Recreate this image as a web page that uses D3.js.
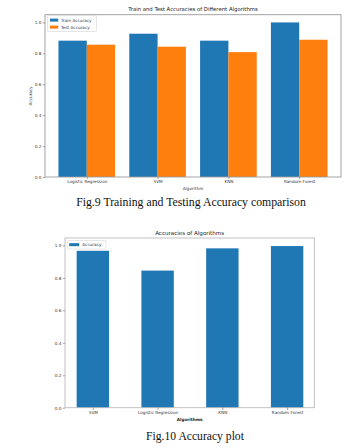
<!DOCTYPE html>
<html><head><meta charset="utf-8">
<script src="https://cdn.jsdelivr.net/npm/d3@7"></script>
<style>body{margin:0;background:#fff}svg{display:block}</style>
</head><body>
<svg id="c" width="361" height="448"></svg>
<script>
const algos1 = ["Logistic Regression","SVM","KNN","Random Forest"];
const trainAcc = [0.882, 0.927, 0.882, 1.0];
const testAcc = [0.856, 0.843, 0.808, 0.888];
const algos2 = ["SVM","Logistic Regression","KNN","Random Forest"];
const acc2 = [0.967, 0.845, 0.982, 0.996];
const yTicks = [0, 0.2, 0.4, 0.6, 0.8, 1.0];
const blue = "#1f77b4", orange = "#ff7f0e";
const tickFont = "DejaVu Sans";
const svg = d3.select("#c");

function fitWidth(t, w){
  const fs = +t.attr("font-size");
  const m = t.node().getComputedTextLength();
  if (m > 0) t.attr("font-size", fs * w / m);
  return t;
}
function frame(g, x0, x1, y0, y1, col){
  g.append("rect").attr("x",x0).attr("y",y0).attr("width",x1-x0).attr("height",y1-y0)
   .attr("fill","none").attr("stroke",col).attr("stroke-width",0.9);
}
function styleAxis(a){
  a.selectAll("text").attr("font-family",tickFont).attr("font-size",4.2).attr("fill","#333");
  a.selectAll("line").attr("stroke","#555").attr("stroke-width",0.5);
  a.select(".domain").remove();
}

// ---- Chart 1 ----
const L1=45,R1=341,T1=14.7,B1=177;
const x1 = d3.scaleLinear().domain([-0.59,3.59]).range([L1,R1]);
const y1 = d3.scaleLinear().domain([0,1.05]).range([B1,T1]);
const g1 = svg.append("g");
const bw1 = x1(0.4)-x1(0);
g1.selectAll("rect.tr").data(trainAcc).join("rect").attr("class","tr")
  .attr("x",(d,i)=>x1(i-0.4)).attr("width",bw1).attr("y",d=>y1(d)).attr("height",d=>y1(0)-y1(d)).attr("fill",blue);
g1.selectAll("rect.te").data(testAcc).join("rect").attr("class","te")
  .attr("x",(d,i)=>x1(i)).attr("width",bw1).attr("y",d=>y1(d)).attr("height",d=>y1(0)-y1(d)).attr("fill",orange);
frame(g1,L1,R1,T1,B1,"#999");
const ya1 = g1.append("g").attr("transform",`translate(${L1},0)`)
  .call(d3.axisLeft(y1).tickValues(yTicks).tickFormat(d3.format(".1f")).tickSize(2.2).tickPadding(1.5));
styleAxis(ya1);
const xa1 = g1.append("g").attr("transform",`translate(0,${B1})`)
  .call(d3.axisBottom(x1).tickValues([0,1,2,3]).tickFormat(i=>algos1[i]).tickSize(2.2).tickPadding(1.2));
styleAxis(xa1);
fitWidth(g1.append("text").attr("x",(L1+R1)/2).attr("y",11).attr("text-anchor","middle")
  .attr("font-family",tickFont).attr("font-size",5).attr("fill","#222").text("Train and Test Accuracies of Different Algorithms"),130);
g1.append("text").attr("x",(L1+R1)/2).attr("y",189.5).attr("text-anchor","middle")
  .attr("font-family",tickFont).attr("font-size",4.2).attr("fill","#333").text("Algorithm");
g1.append("text").attr("transform",`translate(31.5,${(T1+B1)/2}) rotate(-90)`).attr("text-anchor","middle")
  .attr("font-family",tickFont).attr("font-size",4.2).attr("fill","#333").text("Accuracy");
const lg1 = g1.append("g");
lg1.append("rect").attr("x",47.5).attr("y",15.5).attr("width",49).attr("height",16).attr("rx",1)
  .attr("fill","#fff").attr("fill-opacity",0.85).attr("stroke","#ccc").attr("stroke-width",0.5);
[["Train Accuracy",blue],["Test Accuracy",orange]].forEach(([t,c],i)=>{
  lg1.append("rect").attr("x",50).attr("y",18.6+i*7).attr("width",8.2).attr("height",3).attr("fill",c);
  lg1.append("text").attr("x",61).attr("y",21.6+i*7).attr("font-family",tickFont).attr("font-size",4.2).attr("fill","#333").text(t);
});
fitWidth(svg.append("text").attr("x",191).attr("y",205.5).attr("text-anchor","middle")
  .attr("font-family","Liberation Serif").attr("font-size",12.3).attr("fill","#111").text("Fig.9 Training and Testing Accuracy comparison"),230);

// ---- Chart 2 ----
const L2=65,R2=314.3,T2=238,B2=407.7;
const x2 = d3.scaleLinear().domain([-0.43,3.42]).range([L2,R2]);
const y2 = d3.scaleLinear().domain([0,1.0458]).range([B2,T2]);
const g2 = svg.append("g");
const bw2 = x2(0.5)-x2(0);
g2.selectAll("rect.b").data(acc2).join("rect").attr("class","b")
  .attr("x",(d,i)=>x2(i-0.25)).attr("width",bw2).attr("y",d=>y2(d)).attr("height",d=>y2(0)-y2(d)).attr("fill",blue);
frame(g2,L2,R2,T2,B2,"#bbb");
const ya2 = g2.append("g").attr("transform",`translate(${L2},0)`)
  .call(d3.axisLeft(y2).tickValues(yTicks).tickFormat(d3.format(".1f")).tickSize(2.2).tickPadding(1.5));
styleAxis(ya2);
const xa2 = g2.append("g").attr("transform",`translate(0,${B2})`)
  .call(d3.axisBottom(x2).tickValues([0,1,2,3]).tickFormat(i=>algos2[i]).tickSize(2.2).tickPadding(1.2));
styleAxis(xa2);
fitWidth(g2.append("text").attr("x",(L2+R2)/2).attr("y",234.5).attr("text-anchor","middle")
  .attr("font-family",tickFont).attr("font-size",5.2).attr("fill","#222").text("Accuracies of Algorithms"),69);
g2.append("text").attr("x",(L2+R2)/2).attr("y",421).attr("text-anchor","middle")
  .attr("font-family",tickFont).attr("font-size",4.2).attr("font-weight","bold").attr("fill","#222").text("Algorithms");
const lg2 = g2.append("g");
lg2.append("rect").attr("x",67.3).attr("y",240.5).attr("width",38.7).attr("height",8.5).attr("rx",1)
  .attr("fill","#fff").attr("fill-opacity",0.85).attr("stroke","#ccc").attr("stroke-width",0.5);
lg2.append("rect").attr("x",69.2).attr("y",243.2).attr("width",10).attr("height",3).attr("fill",blue);
lg2.append("text").attr("x",82.3).attr("y",246.3).attr("font-family",tickFont).attr("font-size",4.2).attr("fill","#333").text("Accuracy");
fitWidth(svg.append("text").attr("x",195).attr("y",439.5).attr("text-anchor","middle")
  .attr("font-family","Liberation Serif").attr("font-size",12.3).attr("fill","#111").text("Fig.10 Accuracy plot"),98);
</script>
</body></html>
